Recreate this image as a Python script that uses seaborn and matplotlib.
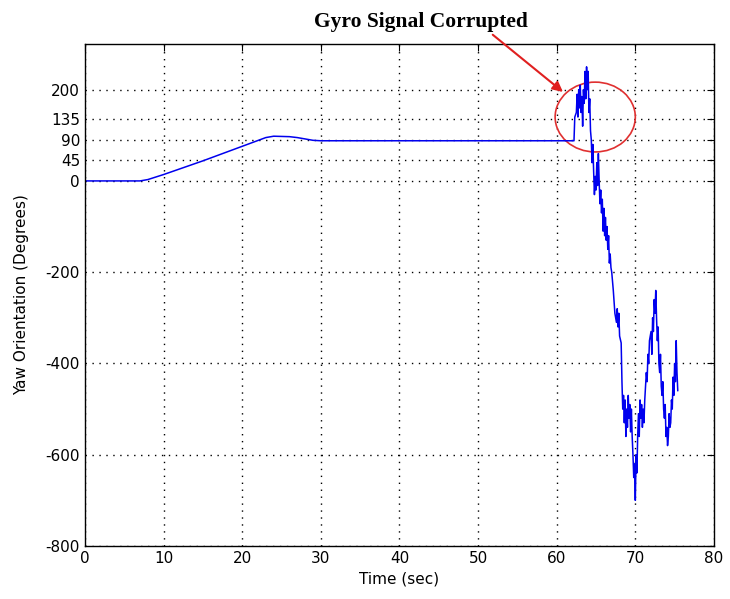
import seaborn as sns
import matplotlib
matplotlib.use("Agg")
import matplotlib.pyplot as plt
from matplotlib.patches import Ellipse
import pandas as pd

# smooth part: hold, ramp to ~98 deg, settle at ~88 deg
t_smooth = [0, 7, 8, 10, 15, 20, 23, 24, 26, 27, 28, 29, 30, 62.2]
yaw_smooth = [0, 0, 3, 14, 44, 76, 95, 98, 97, 95, 92, 89, 88, 88]

# corrupted gyro part
t_noisy = [62.3, 62.5, 62.6, 62.7, 62.8, 62.9, 63.0, 63.1, 63.2, 63.3, 63.4, 63.5,
           63.6, 63.7, 63.8, 63.9, 64.0, 64.1, 64.2, 64.3, 64.4, 64.5, 64.6, 64.7,
           64.8, 64.9, 65.0, 65.1, 65.2, 65.3, 65.4, 65.5, 65.6, 65.7, 65.8, 65.9,
           66.0, 66.1, 66.2, 66.3, 66.4, 66.5, 66.6, 66.7, 66.8, 66.9, 67.0, 67.2,
           67.4, 67.6, 67.7, 67.8, 67.9, 68.0, 68.2, 68.3, 68.4, 68.5, 68.6, 68.7,
           68.8, 68.9, 69.0, 69.1, 69.2, 69.3, 69.4, 69.5, 69.6, 69.7, 69.8, 69.9,
           70.0, 70.1, 70.2, 70.3, 70.4, 70.5, 70.6, 70.7, 70.8, 70.9, 71.0, 71.1,
           71.2, 71.4, 71.5, 71.6, 71.7, 71.8, 72.0, 72.1, 72.2, 72.3, 72.4, 72.5,
           72.6, 72.7, 72.8, 72.9, 73.0, 73.1, 73.2, 73.3, 73.4, 73.5, 73.6, 73.7,
           73.8, 73.9, 74.0, 74.1, 74.2, 74.3, 74.4, 74.5, 74.6, 74.7, 74.8, 74.9,
           75.0, 75.1, 75.2, 75.3, 75.4]
yaw_noisy = [140, 150, 190, 140, 200, 160, 210, 150, 185, 120, 200, 170,
             240, 180, 250, 200, 240, 150, 180, 110, 90, 40, 80, 20,
             -30, 10, -20, 40, -10, 60, 0, -50, -20, -70, -40, -110,
             -60, -120, -80, -130, -100, -150, -120, -180, -160, -190, -200, -240,
             -290, -310, -280, -320, -290, -340, -355, -440, -500, -470, -530, -480,
             -560, -500, -540, -470, -520, -490, -550, -500, -560, -600, -650, -620,
             -700, -600, -640, -560, -510, -560, -480, -520, -490, -540, -500, -530,
             -480, -420, -440, -380, -400, -350, -330, -380, -300, -330, -260, -290,
             -240, -300, -350, -320, -400, -420, -380, -450, -470, -440, -500, -520,
             -490, -560, -540, -580, -560, -510, -540, -530, -480, -500, -430, -470,
             -400, -440, -350, -420, -460]

x_ticks = [0, 10, 20, 30, 40, 50, 60, 70, 80]
y_ticks = [-800, -600, -400, -200, 0, 45, 90, 135, 200]

df = pd.DataFrame({"time": t_smooth + t_noisy, "yaw": yaw_smooth + yaw_noisy})

sns.set_style("white")
plt.rcParams["font.family"] = ["DejaVu Sans"]
plt.rcParams["axes.unicode_minus"] = False
plt.rcParams["text.color"] = "black"
plt.rcParams["axes.labelcolor"] = "black"
plt.rcParams["xtick.color"] = "black"
plt.rcParams["ytick.color"] = "black"

fig = plt.figure(figsize=(7.3, 5.99), dpi=100)
ax = fig.add_axes([0.1164, 0.0885, 0.8616, 0.838])

sns.lineplot(data=df, x="time", y="yaw", ax=ax, color="#0000ee", linewidth=1.1,
             sort=False, estimator=None)

ax.set_xlim(0, 80)
ax.set_ylim(-800, 300)
ax.set_xticks(x_ticks)
ax.set_yticks(y_ticks)
ax.grid(True, linestyle=(0, (1, 4)), color="black", linewidth=1)
ax.tick_params(direction="in", length=5, labelsize=11, top=True, right=True,
               width=0.8)
for s in ax.spines.values():
    s.set_color("black")
    s.set_linewidth(1)
ax.set_xlabel("Time (sec)", fontsize=11)
ax.set_ylabel("Yaw Orientation (Degrees)", fontsize=11, labelpad=12)

# red ring round the corrupted stretch
ax.add_patch(Ellipse((64.9, 140), 10.2, 153, fill=False, edgecolor="#e03030",
                     linewidth=1.2, clip_on=False))

fig.text(0.577, 0.963, "Gyro Signal Corrupted", ha="center", va="center",
         fontsize=15.5, fontweight="bold", family="Liberation Serif")
ax.annotate("", xy=(60.8, 195), xycoords="data",
            xytext=(0.675, 0.942), textcoords="figure fraction",
            arrowprops=dict(arrowstyle="-|>", color="#e02020", lw=1.5,
                            mutation_scale=15, shrinkA=0, shrinkB=0))

fig.savefig("out.png", dpi=100)
